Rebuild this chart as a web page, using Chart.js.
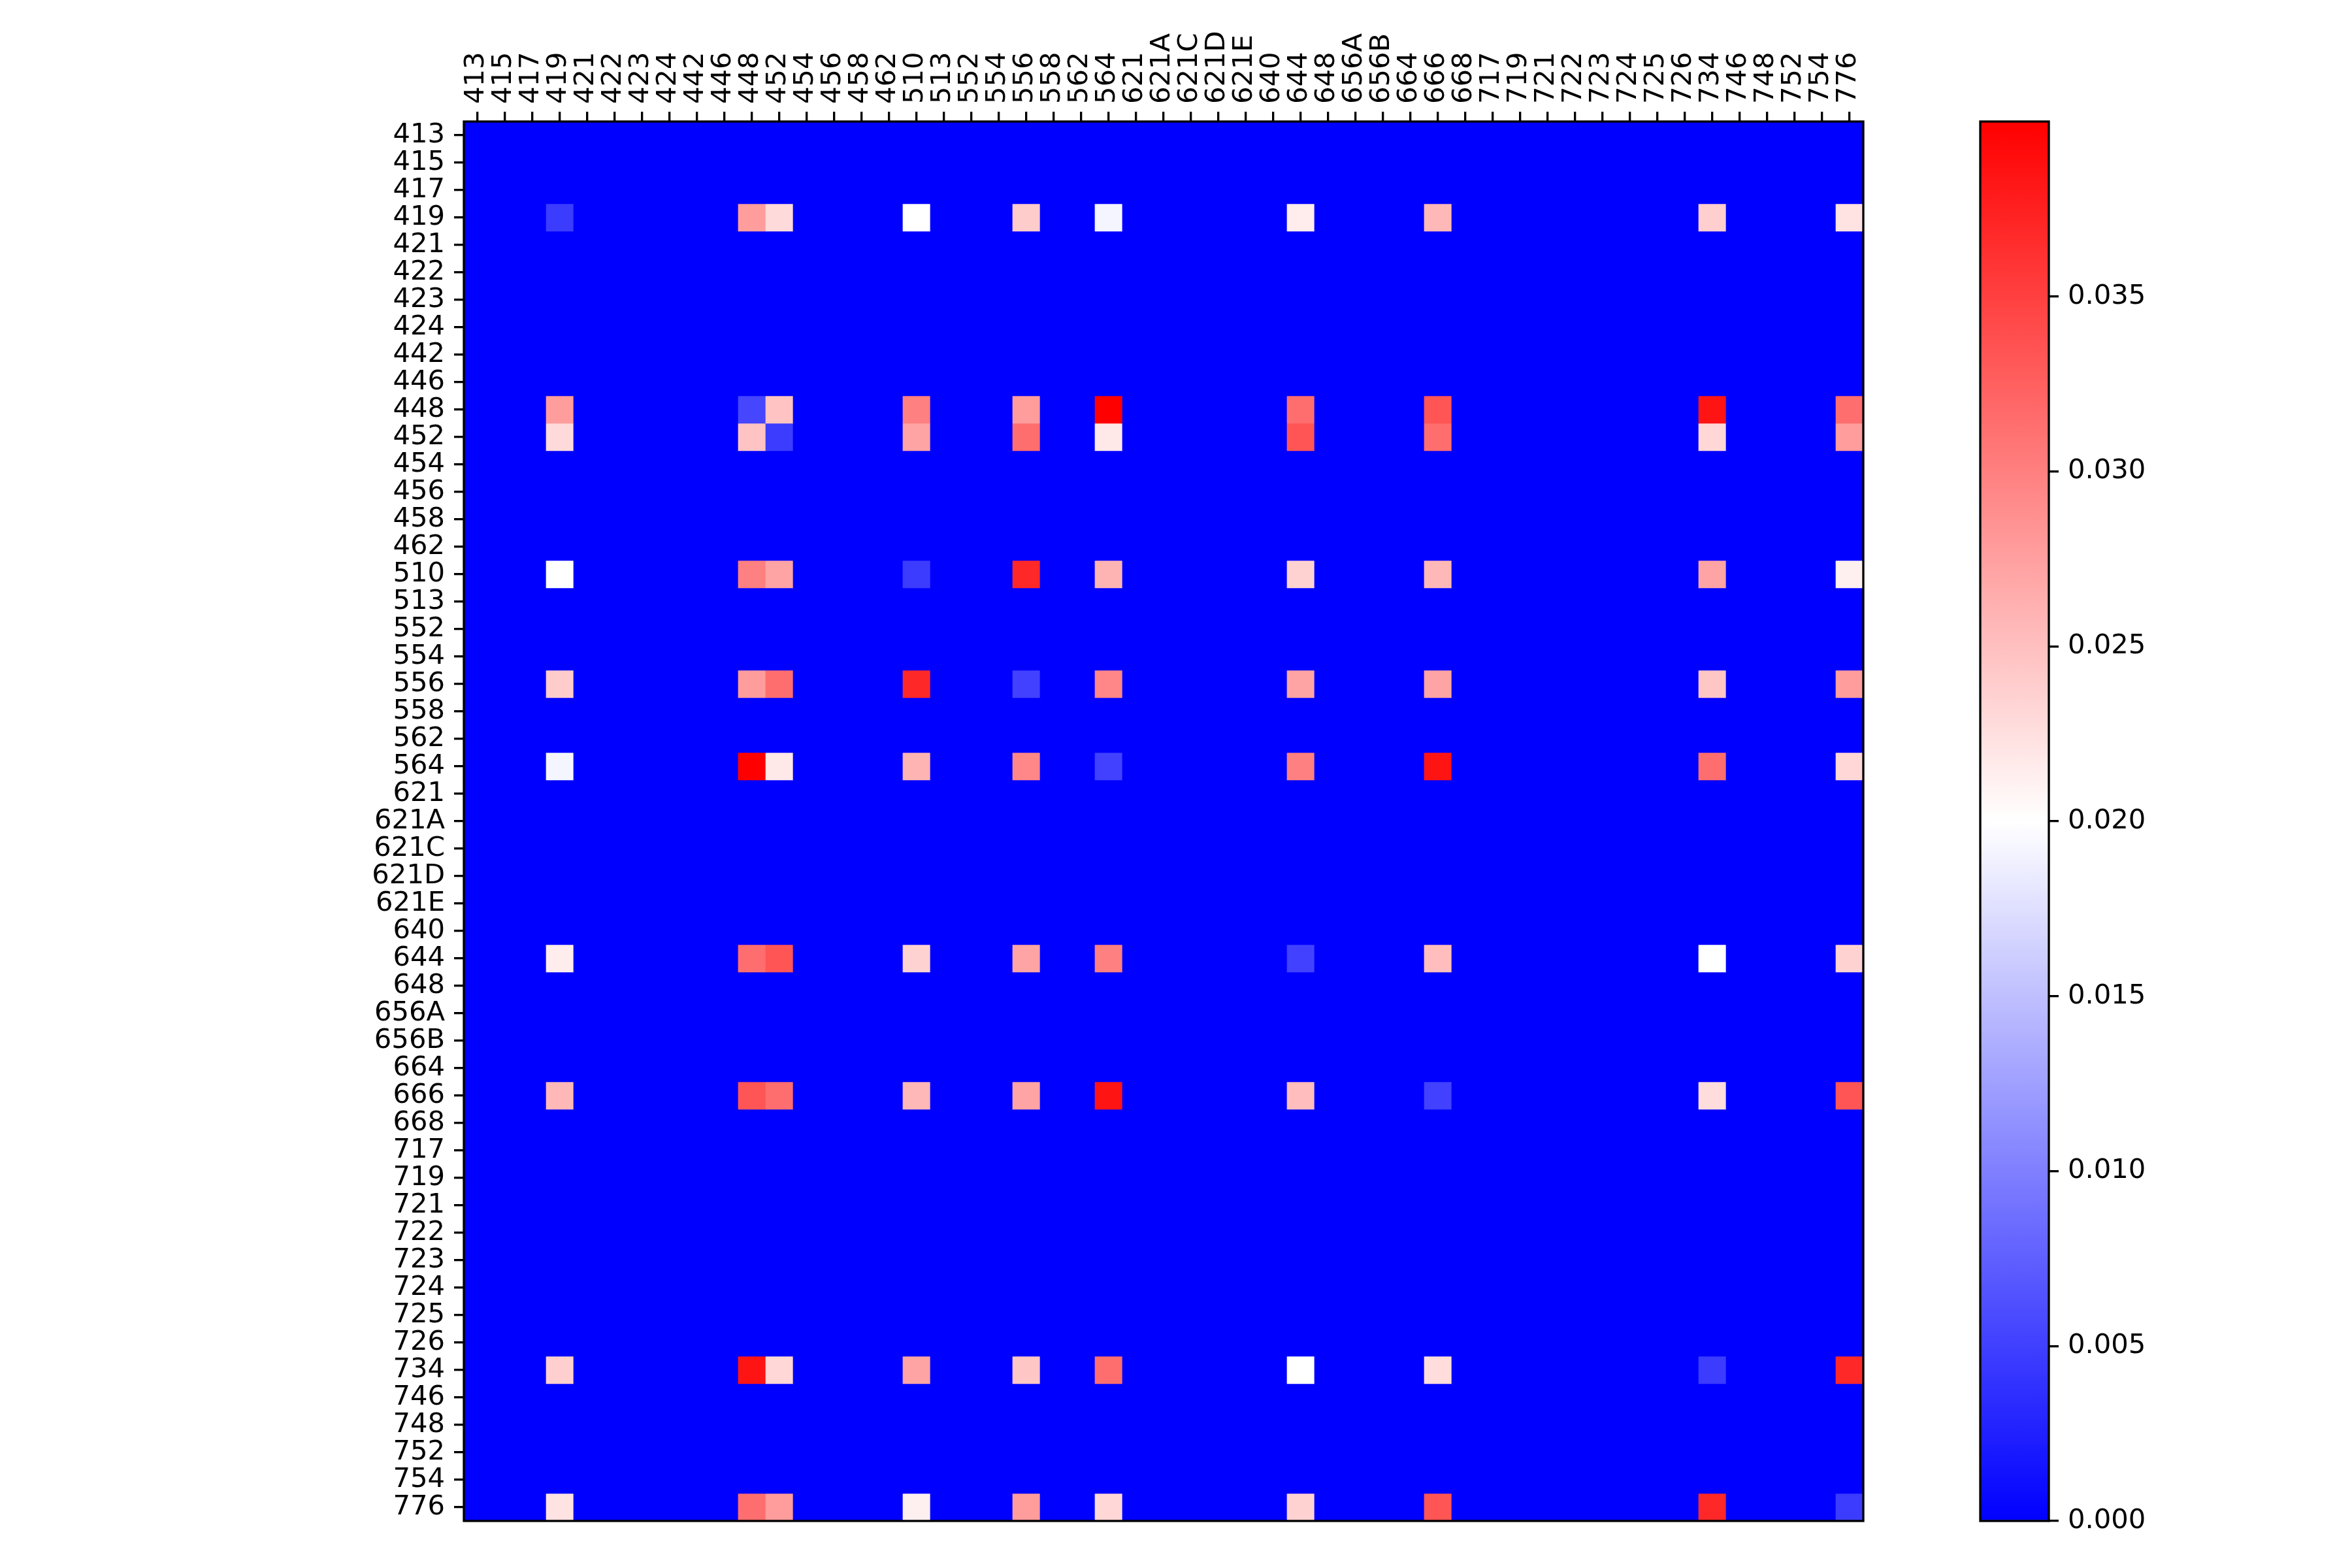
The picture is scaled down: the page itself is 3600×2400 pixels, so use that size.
<!DOCTYPE html>
<html>
<head>
<meta charset="utf-8">
<script src="https://cdn.jsdelivr.net/npm/chart.js@4.4.1/dist/chart.umd.min.js"></script>
<style>
html,body{margin:0;padding:0;background:#fff;}
#wrap{position:relative;width:3600px;height:2400px;background:#fff;}
#wrap canvas{position:absolute;left:0;top:0;}
</style>
</head>
<body>
<div id="wrap">
<canvas id="main" width="3600" height="2400"></canvas>
<canvas id="cbar" width="3600" height="2400"></canvas>
</div>
<script>
// ---------- DATA ----------
const labels = ['413','415','417','419','421','422','423','424','442','446','448','452','454','456','458','462',
  '510','513','552','554','556','558','562','564','621','621A','621C','621D','621E','640','644','648','656A','656B',
  '664','666','668','717','719','721','722','723','724','725','726','734','746','748','752','754','776'];

// only these rows/columns hold non-zero values; every other cell is 0
const activeLabels = ['419','448','452','510','556','564','644','666','734','776'];

const row419 = [0.0047, 0.0277, 0.0229, 0.0200, 0.0240, 0.0192, 0.0215, 0.0256, 0.0238, 0.0223];
const row448 = [0.0277, 0.0055, 0.0247, 0.0300, 0.0278, 0.0400, 0.0314, 0.0333, 0.0384, 0.0314];
const row452 = [0.0229, 0.0247, 0.0047, 0.0271, 0.0314, 0.0218, 0.0333, 0.0314, 0.0231, 0.0278];
const row510 = [0.0200, 0.0300, 0.0271, 0.0047, 0.0369, 0.0259, 0.0235, 0.0256, 0.0271, 0.0212];
const row556 = [0.0240, 0.0278, 0.0314, 0.0369, 0.0051, 0.0294, 0.0271, 0.0271, 0.0245, 0.0278];
const row564 = [0.0192, 0.0400, 0.0218, 0.0259, 0.0294, 0.0051, 0.0300, 0.0384, 0.0314, 0.0231];
const row644 = [0.0215, 0.0314, 0.0333, 0.0235, 0.0271, 0.0300, 0.0051, 0.0252, 0.0200, 0.0235];
const row666 = [0.0256, 0.0333, 0.0314, 0.0256, 0.0271, 0.0384, 0.0252, 0.0051, 0.0227, 0.0333];
const row734 = [0.0238, 0.0384, 0.0231, 0.0271, 0.0245, 0.0314, 0.0200, 0.0227, 0.0047, 0.0369];
const row776 = [0.0223, 0.0314, 0.0278, 0.0212, 0.0278, 0.0231, 0.0235, 0.0333, 0.0369, 0.0047];
const activeRows = [row419, row448, row452, row510, row556, row564, row644, row666, row734, row776];

const colorbarTicks = [0.000, 0.005, 0.010, 0.015, 0.020, 0.025, 0.030, 0.035];
const vmin = 0;
const vmax = 0.0400;

// ---------- HELPERS ----------
function valueAt(r, c) {
  const i = activeLabels.indexOf(labels[r]);
  const j = activeLabels.indexOf(labels[c]);
  return (i >= 0 && j >= 0) ? activeRows[i][j] : 0;
}
// matplotlib 'bwr' colormap
function bwr(v) {
  let t = (v - vmin) / (vmax - vmin);
  t = Math.max(0, Math.min(1, t));
  if (t < 0.5) { const k = Math.round(510 * t); return `rgb(${k},${k},255)`; }
  const k = Math.round(510 * (1 - t));
  return `rgb(255,${k},${k})`;
}

Chart.defaults.font.family = 'DejaVu Sans';
Chart.defaults.font.size = 41.7;
Chart.defaults.color = '#000';

const LINE = 3.33;
const framePlugin = {
  id: 'frame',
  afterDraw(chart) {
    const { ctx, chartArea: a } = chart;
    ctx.save();
    ctx.strokeStyle = '#000';
    ctx.lineWidth = LINE;
    ctx.strokeRect(a.left, a.top, a.right - a.left, a.bottom - a.top);
    ctx.restore();
  }
};

// ---------- HEATMAP ----------
const datasets = labels.map((rl, r) => ({
  label: rl,
  data: labels.map(() => [r, r + 1]),
  backgroundColor: labels.map((cl, c) => bwr(valueAt(r, c))),
  borderWidth: 0,
  borderSkipped: false,
  barPercentage: 1,
  categoryPercentage: 1,
  grouped: false
}));

new Chart(document.getElementById('main'), {
  type: 'bar',
  data: { labels: labels, datasets: datasets },
  options: {
    responsive: false,
    animation: false,
    devicePixelRatio: 1,
    layout: { padding: { left: 510, top: 0, right: 748, bottom: 72 } },
    plugins: { legend: { display: false }, tooltip: { enabled: false } },
    scales: {
      x: {
        type: 'category',
        position: 'top',
        offset: true,
        grid: { offset: false, drawOnChartArea: false, drawTicks: true, tickLength: 15, color: '#000', lineWidth: LINE },
        border: { display: false },
        ticks: { autoSkip: false, maxRotation: 90, minRotation: 90, padding: 12, labelOffset: 48 },
        afterFit(s) { s.height = 186; }
      },
      y: {
        type: 'linear',
        min: 0,
        max: labels.length,
        reverse: true,
        afterBuildTicks(s) { s.ticks = labels.map((_, i) => ({ value: i + 0.5 })); },
        ticks: { autoSkip: false, padding: 14, callback: (v, i) => labels[i] },
        grid: { drawOnChartArea: false, drawTicks: true, tickLength: 15, color: '#000', lineWidth: LINE },
        border: { display: false },
        afterFit(s) { s.width = 200; }
      }
    }
  },
  plugins: [framePlugin]
});

// ---------- COLORBAR ----------
function bwrGradient(ctx) {
  const chart = ctx.chart;
  const a = chart.chartArea;
  if (!a) return '#00f';
  const g = chart.ctx.createLinearGradient(0, a.bottom, 0, a.top);
  g.addColorStop(0, bwr(vmin));
  g.addColorStop(0.5, bwr((vmin + vmax) / 2));
  g.addColorStop(1, bwr(vmax));
  return g;
}

new Chart(document.getElementById('cbar'), {
  type: 'bar',
  data: {
    labels: ['colorbar'],
    datasets: [{ data: [[vmin, vmax]], backgroundColor: bwrGradient, borderWidth: 0, barPercentage: 1, categoryPercentage: 1 }]
  },
  options: {
    responsive: false,
    animation: false,
    devicePixelRatio: 1,
    layout: { padding: { left: 3031, top: 186, right: 164, bottom: 72 } },
    plugins: { legend: { display: false }, tooltip: { enabled: false } },
    scales: {
      x: { display: false },
      y: {
        position: 'right',
        min: vmin,
        max: vmax,
        afterBuildTicks(s) { s.ticks = colorbarTicks.map(v => ({ value: v })); },
        ticks: { padding: 14, callback: v => v.toFixed(3) },
        grid: { drawOnChartArea: false, drawTicks: true, tickLength: 15, color: '#000', lineWidth: LINE },
        border: { display: false },
        afterFit(s) { s.width = 300; }
      }
    }
  },
  plugins: [framePlugin]
});
</script>
</body>
</html>
